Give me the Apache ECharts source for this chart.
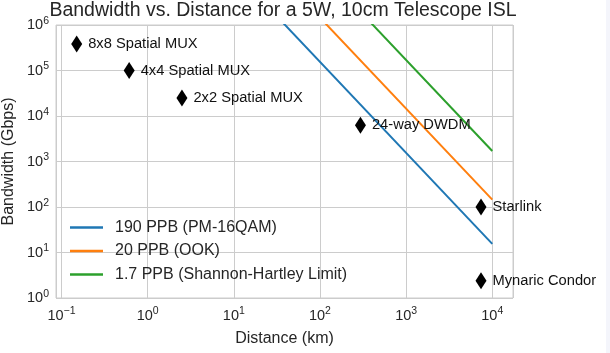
<!DOCTYPE html>
<html>
<head>
<meta charset="utf-8">
<script src="https://cdn.jsdelivr.net/npm/echarts@6/dist/echarts.min.js"></script>
<style>
    html, body { margin: 0; padding: 0; background: #ffffff; }
    #lineChart { width: 610px; height: 353px; }
    #edge { position: absolute; left: 606px; top: 0; width: 4px; height: 353px; background: #f4f5fb; }
</style>
</head>
<body>
<div id="lineChart"></div>
<div id="edge"></div>
<script>
// link budget lines (two end points each, km -> Gbps)
var lineNames = ['190 PPB (PM-16QAM)', '20 PPB (OOK)', '1.7 PPB (Shannon-Hartley Limit)'];
var lineX = [10, 10000];
var ppb190 = [1.55e7, 15.5];
var ppb20 = [1.45e8, 145];
var ppb17 = [1.7e9, 1700];

// existing systems
var pointNames = ['8x8 Spatial MUX', '4x4 Spatial MUX', '2x2 Spatial MUX', '24-way DWDM', 'Starlink', 'Mynaric Condor'];
var pointX = [0.15, 0.61, 2.5, 295, 7400, 7400];
var pointY = [3.8e5, 1e5, 2.5e4, 6300, 100, 2.4];

var xMin = 0.0863, xMax = 17400;
var yMin = 1, yMax = 1e6;

(function () {
    var dom = document.getElementById("lineChart");
    var myChart = echarts.init(dom);

    var colors = ['#1f77b4', '#ff7f0e', '#2ca02c'];
    var lineY = [ppb190, ppb20, ppb17];

    // 10^n labels, only on whole decades
    function powLabel(v) {
        var e = Math.log10(v);
        var r = Math.round(e);
        if (Math.abs(e - r) > 1e-6) return '';
        return '{b|10}{s|' + String(r).replace('-', '\u2212') + '}';
    }
    var richPow = {
        b: { fontFamily: 'Liberation Sans', fontSize: 14.5, color: '#262626', lineHeight: 19 },
        s: { fontFamily: 'Liberation Sans', fontSize: 10.5, color: '#262626', verticalAlign: 'top' }
    };

    var series = [];
    for (var i = 0; i < lineNames.length; i++) {
        var d = [];
        for (var j = 0; j < lineX.length; j++) d.push([lineX[j], lineY[i][j]]);
        series.push({
            name: lineNames[i],
            type: 'line',
            data: d,
            symbol: 'none',
            color: colors[i],
            lineStyle: { width: 2, color: colors[i] },
            z: 2
        });
    }

    var pts = [];
    for (var k = 0; k < pointNames.length; k++) {
        pts.push({ name: pointNames[k], value: [pointX[k], pointY[k]] });
    }
    series.push({
        type: 'scatter',
        data: pts,
        symbol: 'diamond',
        symbolSize: [11, 17],
        itemStyle: { color: '#000000', opacity: 1 },
        label: {
            show: true,
            position: 'right',
            distance: 6,
            formatter: '{b}',
            fontFamily: 'Liberation Sans',
            fontSize: 14.7,
            color: '#111111'
        },
        z: 5
    });

    var option = {
        animation: false,
        title: {
            text: 'Bandwidth vs. Distance for a 5W, 10cm Telescope ISL',
            left: 283,
            textAlign: 'center',
            top: 1,
            padding: 0,
            textStyle: {
                fontFamily: 'Liberation Sans',
                fontSize: 19.5,
                fontWeight: 'normal',
                color: '#262626'
            }
        },
        legend: {
            data: lineNames,
            orient: 'vertical',
            left: 65,
            top: 213,
            itemWidth: 33,
            itemHeight: 2.5,
            itemGap: 4.5,
            icon: 'rect',
            textStyle: {
                fontFamily: 'Liberation Sans',
                fontSize: 16,
                color: '#262626',
                padding: [0, 0, 0, 7],
                lineHeight: 19
            }
        },
        grid: {
            left: 56,
            right: 97,
            top: 25,
            bottom: 55,
            outerBoundsMode: 'none',
            show: true,
            borderColor: '#cccccc',
            borderWidth: 1
        },
        xAxis: {
            type: 'log',
            logBase: 10,
            min: xMin,
            max: xMax,
            name: 'Distance (km)',
            nameLocation: 'middle',
            nameGap: 33,
            nameTextStyle: { fontFamily: 'Liberation Sans', fontSize: 16, color: '#262626' },
            axisLine: { show: false },
            axisTick: { show: false },
            axisLabel: { margin: 8, formatter: powLabel, rich: richPow },
            splitLine: { show: true, lineStyle: { color: '#cccccc', width: 1 } }
        },
        yAxis: {
            type: 'log',
            logBase: 10,
            min: yMin,
            max: yMax,
            name: 'Bandwidth (Gbps)',
            nameLocation: 'middle',
            nameGap: 38,
            nameTextStyle: { fontFamily: 'Liberation Sans', fontSize: 16, color: '#262626' },
            axisLine: { show: false },
            axisTick: { show: false },
            axisLabel: { margin: 7, formatter: powLabel, rich: richPow },
            splitLine: { show: true, lineStyle: { color: '#cccccc', width: 1 } }
        },
        series: series
    };

    if (option && typeof option === 'object') {
        myChart.setOption(option);
    }

    window.addEventListener("resize", function () {
        myChart.resize();
    });
})();
</script>
</body>
</html>
